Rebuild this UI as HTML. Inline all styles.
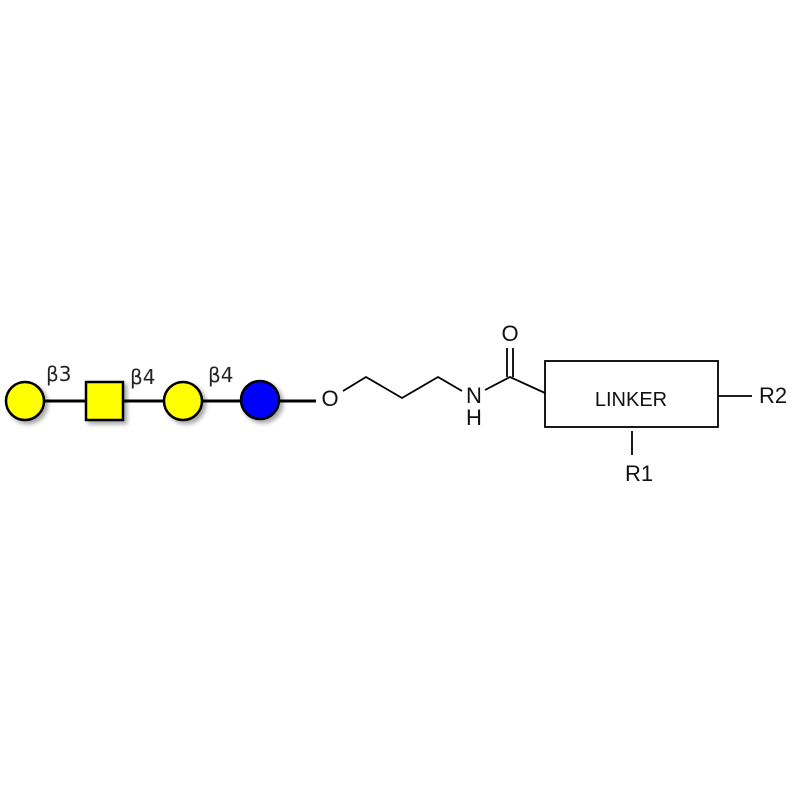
<!DOCTYPE html>
<html><head><meta charset="utf-8"><style>body{margin:0;background:#fff}</style></head><body>
<svg width="800" height="800" xmlns="http://www.w3.org/2000/svg">
<defs><filter id="s" x="-50%" y="-50%" width="200%" height="200%"><feDropShadow dx="3" dy="3" stdDeviation="2" flood-color="#000" flood-opacity="0.35"/></filter></defs>
<rect width="800" height="800" fill="#fff"/>
<line x1="25" y1="401" x2="316" y2="401" stroke="#000" stroke-width="3"/>
<g stroke="#000" stroke-width="2.5" filter="url(#s)">
<circle cx="25" cy="401" r="19" fill="#ffff00"/>
<rect x="86" y="382" width="37" height="38" fill="#ffff00"/>
<circle cx="183" cy="401" r="19" fill="#ffff00"/>
<circle cx="260" cy="400" r="19" fill="#0000ff"/>
</g>
<g font-family="DejaVu Sans, sans-serif" font-size="20" fill="#222">
<text x="46" y="381">β3</text><text x="130" y="384">β4</text><text x="208" y="382">β4</text>
</g>
<g stroke="#000" stroke-width="1.8" fill="none">
<polyline points="343,391 366,377 402,398 438,377 462,391"/>
<polyline points="485,390 510,377 545,393"/>
<line x1="507" y1="377" x2="507" y2="348"/><line x1="513" y1="377" x2="513" y2="348"/>
<rect x="545" y="361" width="173" height="66"/>
<line x1="718" y1="396" x2="752" y2="396"/>
<line x1="632" y1="431" x2="632" y2="455"/>
</g>
<g font-family="Liberation Sans, sans-serif" font-size="22" fill="#111" text-anchor="middle">
<text x="330" y="406">O</text>
<text x="474" y="403">N</text>
<text x="474" y="425">H</text>
<text x="510" y="341">O</text>
<text x="631" y="406" font-size="20">LINKER</text>
<text x="773" y="403">R2</text>
<text x="639" y="481">R1</text>
</g>
</svg>
</body></html>
